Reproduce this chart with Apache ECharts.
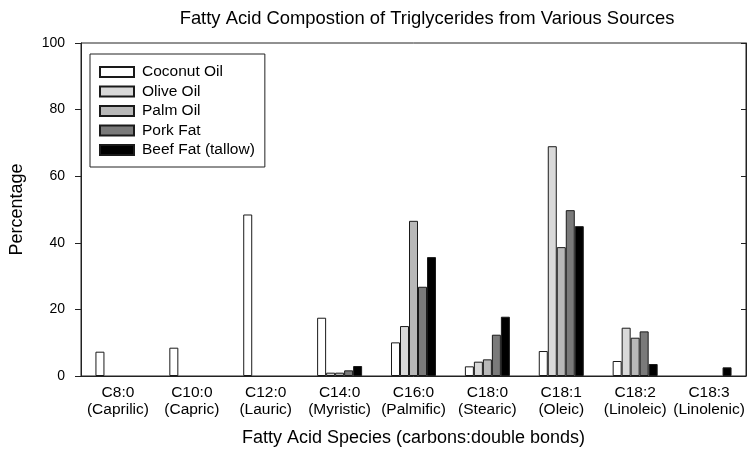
<!DOCTYPE html>
<html>
<head>
<meta charset="utf-8">
<script src="https://cdn.jsdelivr.net/npm/echarts@6/dist/echarts.min.js"></script>
<style>
html,body{margin:0;padding:0;background:#fff;}
#chart{width:752px;height:452px;}
</style>
</head>
<body>
<div id="chart"></div>
<script>
var categories = ['C8:0\n(Caprilic)', 'C10:0\n(Capric)', 'C12:0\n(Lauric)', 'C14:0\n(Myristic)', 'C16:0\n(Palmific)', 'C18:0\n(Stearic)', 'C18:1\n(Oleic)', 'C18:2\n(Linoleic)', 'C18:3\n(Linolenic)'];
var seriesNames = ['Coconut Oil', 'Olive Oil', 'Palm Oil', 'Pork Fat', 'Beef Fat (tallow)'];
var coconutOil = [7.3, 8.5, 48.5, 17.5, 10.1, 2.9, 7.5, 4.5, null];
var oliveOil   = [null, null, null, 1.0, 15.0, 4.3, 69.0, 14.5, null];
var palmOil    = [null, null, null, 1.0, 46.6, 5.0, 38.7, 11.5, null];
var porkFat    = [null, null, null, 1.7, 26.8, 12.4, 49.8, 13.4, null];
var beefFat    = [null, null, null, 3.0, 35.7, 17.8, 45.0, 3.6, 2.6];
var yTicks = [0, 20, 40, 60, 80, 100];

var FONT = '"Liberation Sans", Arial, Helvetica, sans-serif';
var colors = ['#ffffff', '#d9d9d9', '#b8b8b8', '#7a7a7a', '#000000'];
var values = [coconutOil, oliveOil, palmOil, porkFat, beefFat];

var chart = echarts.init(document.getElementById('chart'), null, {renderer: 'canvas'});

var series = seriesNames.map(function (name, i) {
  return {
    name: name,
    type: 'bar',
    data: values[i],
    barWidth: 9,
    barGap: '0%',
    itemStyle: {color: colors[i], borderColor: '#1a1a1a', borderWidth: 1},
    emphasis: {disabled: true}
  };
});

chart.setOption({
  animation: false,
  backgroundColor: '#ffffff',
  title: {
    text: 'Fatty Acid Compostion of Triglycerides from Various Sources',
    left: 422,
    top: 5,
    textAlign: 'center',
    textStyle: {fontFamily: FONT, fontSize: 18.4, fontWeight: 'normal', color: '#000'}
  },
  legend: {
    orient: 'vertical',
    left: 90,
    top: 54,
    padding: [10, 10, 9, 9],
    itemWidth: 34,
    itemHeight: 10,
    itemGap: 3.5,
    icon: 'rect',
    borderColor: '#222',
    borderWidth: 1,
    selectedMode: false,
    textStyle: {fontFamily: FONT, fontSize: 15.5, color: '#000', lineHeight: 15.5, padding: [0, 0, 0, 3]},
    data: seriesNames
  },
  grid: {
    left: 81, right: 6, top: 43, bottom: 70,
    show: true, borderColor: '#222', borderWidth: 1, backgroundColor: 'transparent'
  },
  xAxis: {
    type: 'category',
    data: categories,
    axisLine: {lineStyle: {color: '#222', width: 1}},
    axisTick: {show: false},
    axisLabel: {fontFamily: FONT, fontSize: 15.5, color: '#000', lineHeight: 17, margin: 8, interval: 0},
    name: 'Fatty Acid Species (carbons:double bonds)',
    nameLocation: 'middle',
    nameGap: 53,
    nameTextStyle: {fontFamily: FONT, fontSize: 18, color: '#000'}
  },
  yAxis: [{
    type: 'value',
    min: yTicks[0],
    max: yTicks[yTicks.length - 1],
    interval: yTicks[1] - yTicks[0],
    axisLine: {show: true, lineStyle: {color: '#222', width: 1}},
    axisTick: {show: true, length: 6, lineStyle: {color: '#222'}},
    splitLine: {show: false},
    axisLabel: {fontFamily: FONT, fontSize: 14, color: '#000', margin: 16},
    name: 'Percentage',
    nameLocation: 'middle',
    nameGap: 55,
    nameTextStyle: {fontFamily: FONT, fontSize: 18, color: '#000'}
  }, {
    type: 'value',
    position: 'right',
    min: yTicks[0],
    max: yTicks[yTicks.length - 1],
    interval: yTicks[1] - yTicks[0],
    axisLine: {show: true, lineStyle: {color: '#222', width: 1}},
    axisTick: {show: true, inside: true, length: 5, lineStyle: {color: '#222'}},
    splitLine: {show: false},
    axisLabel: {show: false}
  }],
  series: series
});
</script>
</body>
</html>
